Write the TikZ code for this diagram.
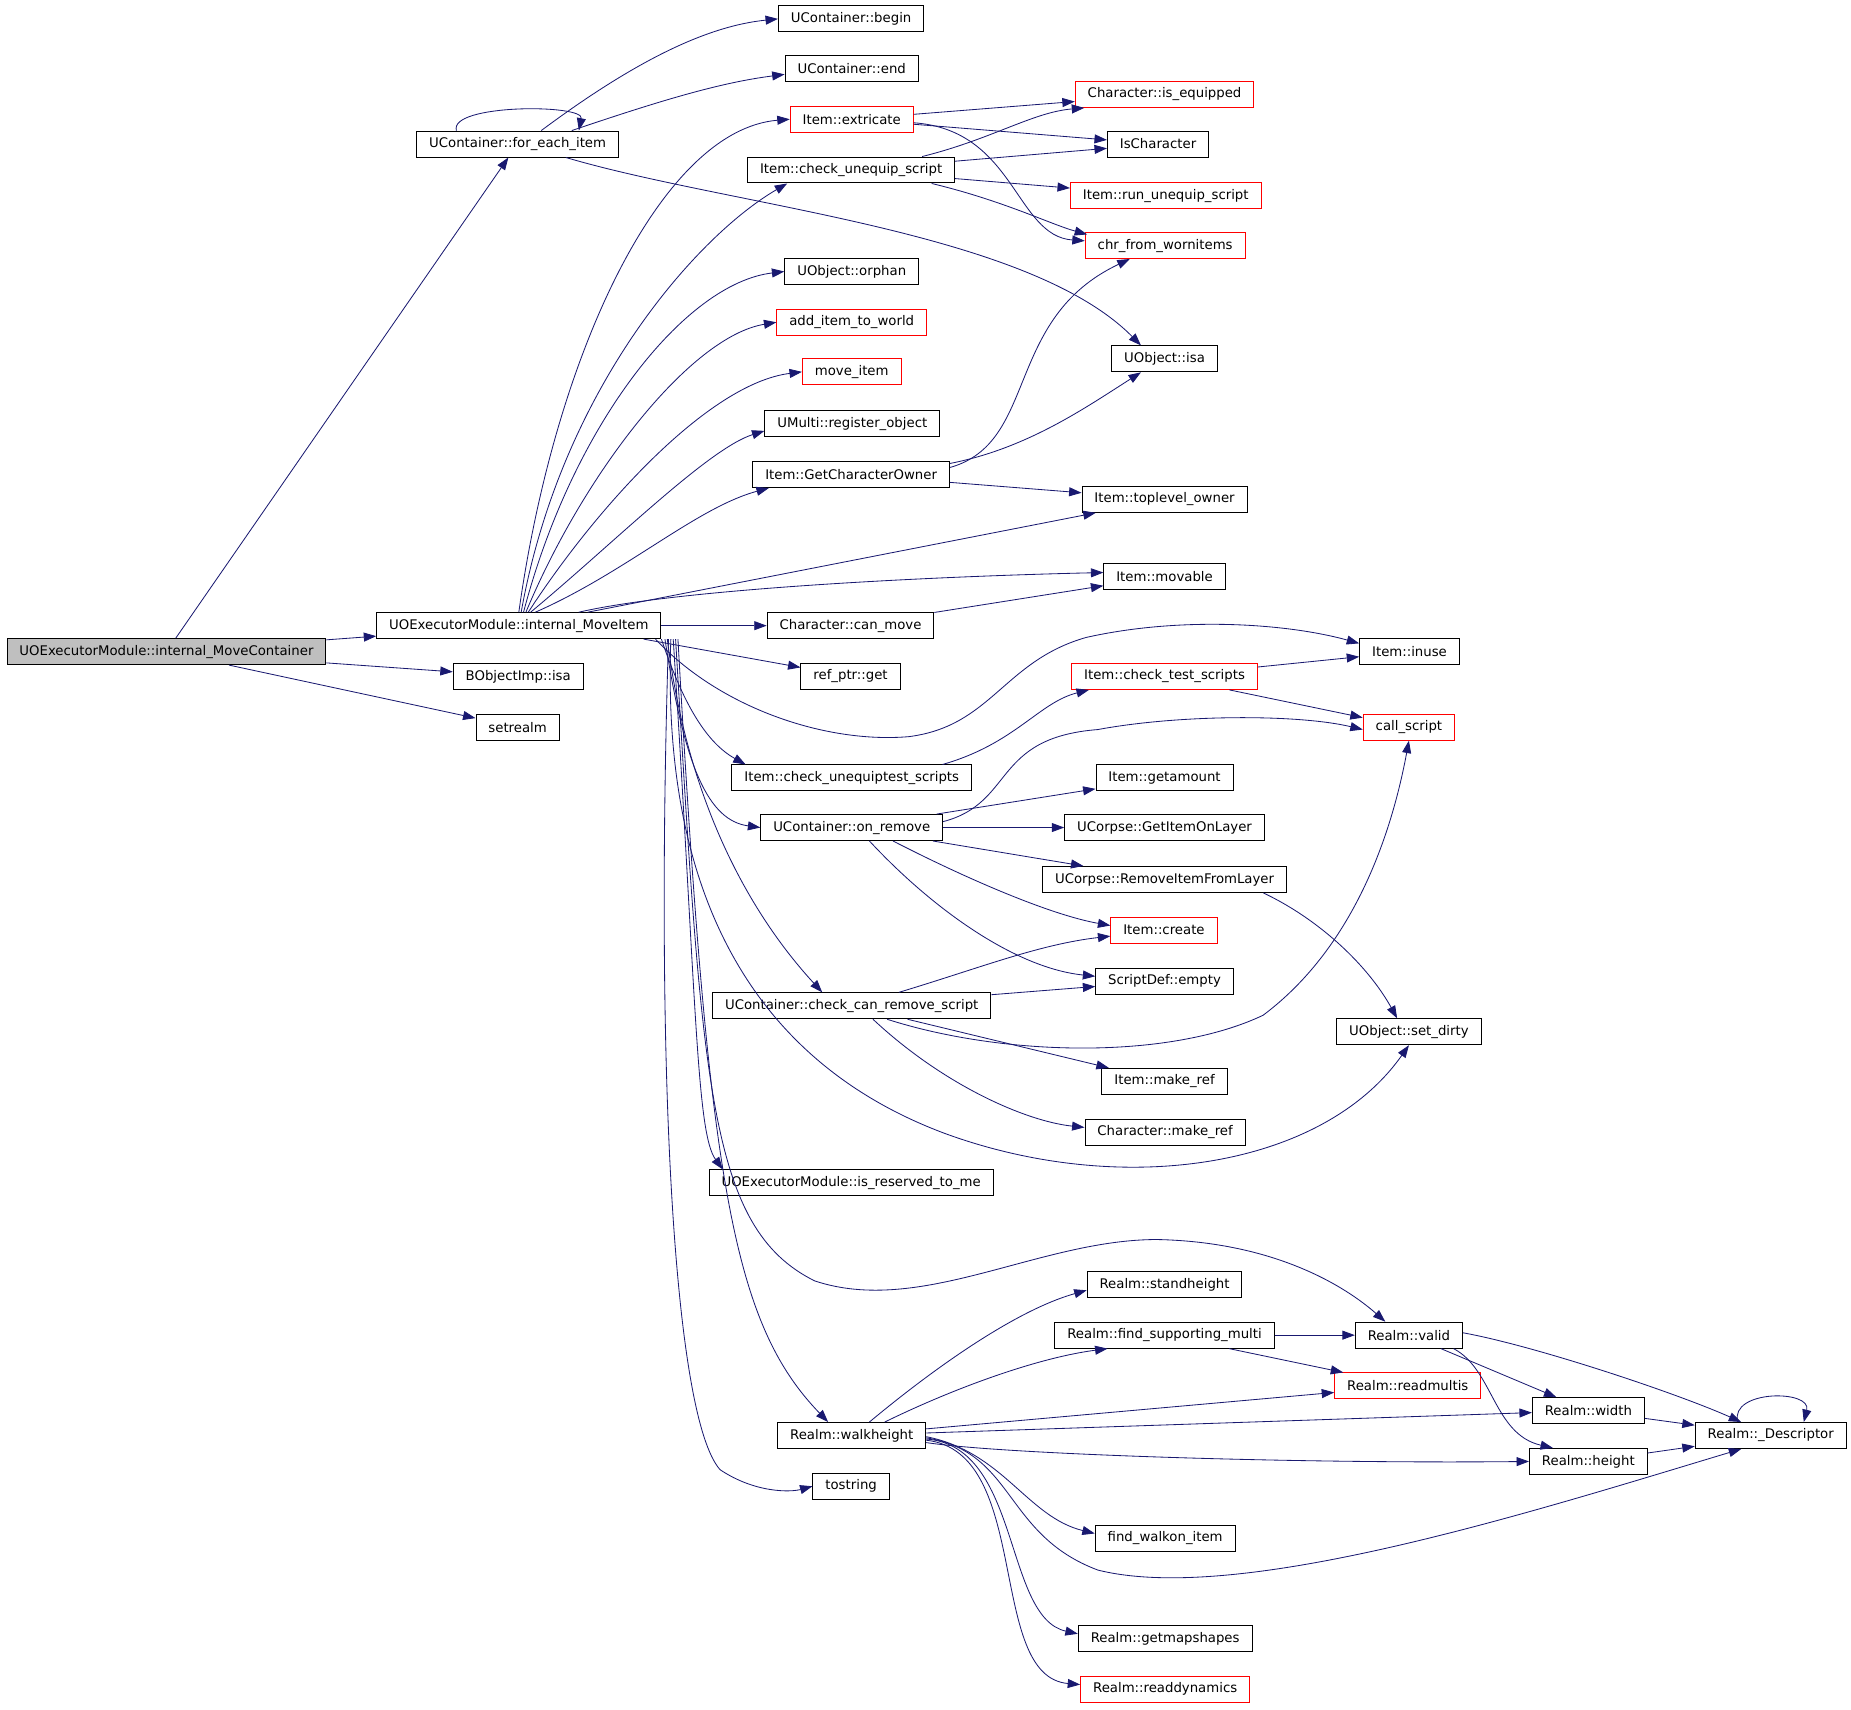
\documentclass[tikz,border=0pt]{standalone}
\usepackage{fontspec}
\setmainfont{DejaVu Sans}
\usetikzlibrary{arrows.meta,calc}
\definecolor{edgeblue}{HTML}{191970}
\tikzstyle{fn}=[draw, rectangle, line width=0.7pt, minimum height=0.66cm, inner xsep=9pt, inner ysep=2pt, font=\fontsize{9.6}{11}\selectfont]
\tikzstyle{undoc}=[draw=red]
\tikzstyle{root}=[fill=black!25]
\tikzstyle{call}=[draw=edgeblue, line width=0.6pt, -{Triangle[length=9pt,width=6.5pt]}]

\begin{document}
\begin{tikzpicture}[x=0.03cm, y=-0.03cm]
\useasboundingbox (0,0) rectangle (1568,1448);
% callers
\draw (141,552) node[fn, root] (mc) {UOExecutorModule::internal\_MoveContainer};
\draw (438.5,122) node[fn] (fe) {UContainer::for\_each\_item};
\draw (439.5,530) node[fn] (mi) {UOExecutorModule::internal\_MoveItem};
\draw (439,573) node[fn] (bisa) {BObjectImp::isa};
\draw (438.5,616) node[fn] (setrealm) {setrealm};
% second column
\draw (721,16) node[fn] (cbegin) {UContainer::begin};
\draw (721.5,58) node[fn] (cend) {UContainer::end};
\draw (721.5,101) node[fn, undoc] (extricate) {Item::extricate};
\draw (721,144) node[fn] (chkunequip) {Item::check\_unequip\_script};
\draw (721.5,230) node[fn] (orphan) {UObject::orphan};
\draw (721.5,273) node[fn, undoc] (additem) {add\_item\_to\_world};
\draw (721.5,315) node[fn, undoc] (moveitem) {move\_item};
\draw (722,359) node[fn] (register) {UMulti::register\_object};
\draw (721,402) node[fn] (getowner) {Item::GetCharacterOwner};
\draw (720.5,530) node[fn] (canmove) {Character::can\_move};
\draw (720.5,573) node[fn] (refget) {ref\_ptr::get};
\draw (721.5,659) node[fn] (chkunequiptest) {Item::check\_unequiptest\_scripts};
\draw (721.5,701) node[fn] (onremove) {UContainer::on\_remove};
\draw (721.5,852) node[fn] (canremove) {UContainer::check\_can\_remove\_script};
\draw (721,1002) node[fn] (reserved) {UOExecutorModule::is\_reserved\_to\_me};
\draw (721.5,1216) node[fn] (walkheight) {Realm::walkheight};
\draw (721,1259) node[fn] (tostring) {tostring};
% third column
\draw (986.5,80) node[fn, undoc] (isequipped) {Character::is\_equipped};
\draw (981,122) node[fn] (ischar) {IsCharacter};
\draw (987.5,166) node[fn, undoc] (rununequip) {Item::run\_unequip\_script};
\draw (987,208) node[fn, undoc] (chrworn) {chr\_from\_wornitems};
\draw (986.5,304) node[fn] (uisa) {UObject::isa};
\draw (986.5,423) node[fn] (toplevel) {Item::toplevel\_owner};
\draw (986.5,488) node[fn] (movable) {Item::movable};
\draw (986.5,573) node[fn, undoc] (chktest) {Item::check\_test\_scripts};
\draw (986.5,659) node[fn] (getamount) {Item::getamount};
\draw (986.5,701) node[fn] (getitemlayer) {UCorpse::GetItemOnLayer};
\draw (986.5,745) node[fn] (removeitem) {UCorpse::RemoveItemFromLayer};
\draw (986,788) node[fn, undoc] (create) {Item::create};
\draw (986.5,831) node[fn] (sdempty) {ScriptDef::empty};
\draw (986.5,916) node[fn] (makeref) {Item::make\_ref};
\draw (987,959) node[fn] (charmakeref) {Character::make\_ref};
\draw (986.5,1088) node[fn] (standheight) {Realm::standheight};
\draw (986.5,1131) node[fn] (findmulti) {Realm::find\_supporting\_multi};
\draw (987,1303) node[fn] (findwalkon) {find\_walkon\_item};
\draw (987,1388) node[fn] (getmapshapes) {Realm::getmapshapes};
\draw (987,1431) node[fn, undoc] (readdynamics) {Realm::readdynamics};
% right side
\draw (1194,552) node[fn] (inuse) {Item::inuse};
\draw (1193.5,616) node[fn, undoc] (callscript) {call\_script};
\draw (1193.5,874) node[fn] (setdirty) {UObject::set\_dirty};
\draw (1193.5,1131) node[fn] (valid) {Realm::valid};
\draw (1192.5,1174) node[fn, undoc] (readmultis) {Realm::readmultis};
\draw (1345.5,1195) node[fn] (width) {Realm::width};
\draw (1345.5,1238) node[fn] (height) {Realm::height};
\draw (1500,1216) node[fn] (descriptor) {Realm::\_Descriptor};

% internal_MoveContainer
\draw[call] (mc) -- (fe);
\draw[call] (mc) -- (mi);
\draw[call] (mc) -- (bisa);
\draw[call] (mc) -- (setrealm);

% for_each_item
\draw[call] ($(fe.north west)+(34,0)$) .. controls (380,88) and (495,88) .. ($(fe.north east)+(-34,0)$);
\draw[call] ($(fe.north)+(20,0)$) .. controls (540,50) and (600,22) .. (cbegin.west);
\draw[call] ($(fe.north east)+(-40,0)$) .. controls (560,85) and (610,70) .. ($(cend.west)+(0,5)$);
\draw[call] ($(fe.south east)+(-45,0)$) .. controls (620,175) and (870,195) .. ($(uisa.north)+(-20,0)$);

% internal_MoveItem, upper fan
\draw[call] (mi.north) .. controls (470,300) and (560,110) .. (extricate.west);
\draw[call] ($(mi.north)+(2,0)$) .. controls (475,330) and (590,200) .. ($(chkunequip.south west)+(34,0)$);
\draw[call] ($(mi.north)+(4,0)$) .. controls (485,360) and (580,240) .. (orphan.west);
\draw[call] ($(mi.north)+(6,0)$) .. controls (495,400) and (585,285) .. (additem.west);
\draw[call] ($(mi.north)+(8,0)$) .. controls (505,430) and (600,325) .. (moveitem.west);
\draw[call] ($(mi.north)+(10,0)$) .. controls (520,460) and (600,380) .. ($(register.west)+(0,6)$);
\draw[call] ($(mi.north)+(14,0)$) .. controls (530,485) and (590,430) .. ($(getowner.south west)+(14,0)$);
\draw[call] (mi) -- (toplevel);
\draw[call] ($(mi.north east)+(-70,0)$) .. controls (580,498) and (800,488) .. ($(movable.west)+(0,-3)$);
\draw[call] (mi) -- (canmove);
\draw[call] ($(mi.south east)+(-15,0)$) -- (refget);

% internal_MoveItem, lower fan
\draw[call] ($(mi.south east)+(-5,0)$) .. controls (610,600) and (700,630) .. (770,624) .. controls (840,615) and (850,560) .. (920,540) .. controls (1000,522) and (1090,528) .. ($(inuse.west)+(0,-7)$);
\draw[call] (mi.south east) .. controls (580,600) and (600,630) .. ($(chkunequiptest.north west)+(12,0)$);
\draw[call] ($(mi.south east)+(3,0)$) .. controls (580,650) and (600,695) .. (onremove.west);
\draw[call] ($(mi.south east)+(5,0)$) .. controls (585,700) and (650,790) .. ($(canremove.north)+(-25,0)$);
\draw[call] ($(mi.south east)+(8,0)$) .. controls (560,760) and (640,900) .. (800,960) .. controls (950,1015) and (1120,990) .. (setdirty.south);
\draw[call] ($(mi.south east)+(10,0)$) .. controls (590,850) and (590,960) .. ($(reserved.north west)+(12,0)$);
\draw[call] ($(mi.south east)+(12,0)$) .. controls (595,920) and (600,1040) .. (690,1085) .. controls (780,1115) and (880,1050) .. (980,1050) .. controls (1080,1052) and (1140,1090) .. ($(valid.north)+(-20,0)$);
\draw[call] ($(mi.south east)+(14,0)$) .. controls (600,1000) and (620,1120) .. ($(walkheight.north)+(-20,0)$);
\draw[call] ($(mi.south east)+(6,0)$) .. controls (555,900) and (570,1200) .. (610,1245) .. controls (640,1265) and (670,1264) .. (tostring.west);

% Item::extricate, Item::check_unequip_script
\draw[call] (extricate) -- (isequipped);
\draw[call] (extricate) -- (ischar);
\draw[call] ($(extricate.east)+(0,3)$) .. controls (860,110) and (860,200) .. ($(chrworn.west)+(0,-4)$);
\draw[call] ($(chkunequip.north east)+(-28,0)$) .. controls (840,118) and (875,95) .. ($(isequipped.south west)+(8,0)$);
\draw[call] (chkunequip) -- (ischar);
\draw[call] (chkunequip) -- (rununequip);
\draw[call] ($(chkunequip.south east)+(-20,0)$) .. controls (850,170) and (890,190) .. ($(chrworn.north west)+(2,2)$);

% Item::GetCharacterOwner, Character::can_move
\draw[call] ($(getowner.east)+(0,-6)$) .. controls (880,375) and (850,270) .. ($(chrworn.south)+(-30,0)$);
\draw[call] ($(getowner.north east)+(0,2)$) .. controls (870,380) and (920,345) .. ($(uisa.south)+(-20,0)$);
\draw[call] (getowner) -- (toplevel);
\draw[call] (canmove) -- (movable);

% scripts
\draw[call] (chktest) -- (inuse);
\draw[call] (chktest) -- (callscript);
\draw[call] ($(chkunequiptest.north east)+(-25,0)$) .. controls (860,630) and (880,595) .. ($(chktest.south west)+(15,0)$);

% UContainer::on_remove
\draw[call] ($(onremove.east)+(0,-5)$) .. controls (860,680) and (840,625) .. (930,618) .. controls (1000,605) and (1100,605) .. ($(callscript.west)+(0,2)$);
\draw[call] (onremove) -- (getamount);
\draw[call] (onremove) -- (getitemlayer);
\draw[call] (onremove) -- (removeitem);
\draw[call] ($(onremove.south)+(35,0)$) .. controls (820,745) and (890,775) .. ($(create.west)+(0,-4)$);
\draw[call] ($(onremove.south)+(15,0)$) .. controls (790,770) and (860,820) .. ($(sdempty.west)+(0,-4)$);
\draw[call] ($(removeitem.south east)+(-20,0)$) .. controls (1120,780) and (1160,820) .. ($(setdirty.north)+(-10,0)$);

% UContainer::check_can_remove_script
\draw[call] ($(canremove.north)+(40,0)$) .. controls (830,820) and (880,800) .. ($(create.west)+(0,5)$);
\draw[call] (canremove) -- (sdempty);
\draw[call] ($(canremove.south)+(30,0)$) .. controls (850,895) and (990,898) .. (1070,860) .. controls (1150,800) and (1180,700) .. (callscript.south);
\draw[call] (canremove) -- (makeref);
\draw[call] ($(canremove.south)+(18,0)$) .. controls (800,920) and (870,950) .. ($(charmakeref.west)+(0,-4)$);

% Realm
\draw[call] (findmulti) -- (valid);
\draw[call] (findmulti) -- (readmultis);
\draw[call] (valid) -- (width);
\draw[call] ($(valid.south east)+(-8,0)$) .. controls (1265,1160) and (1265,1215) .. ($(height.north)+(-30,0)$);
\draw[call] ($(valid.east)+(0,-2)$) .. controls (1300,1140) and (1420,1180) .. ($(descriptor.north)+(-25,0)$);
\draw[call] (width) -- (descriptor);
\draw[call] (height) -- (descriptor);
\draw[call] ($(descriptor.north)+(-28,0)$) .. controls (1465,1177) and (1535,1177) .. ($(descriptor.north)+(28,0)$);

% Realm::walkheight
\draw[call] ($(walkheight.north)+(15,0)$) .. controls (790,1160) and (860,1110) .. ($(standheight.west)+(0,5)$);
\draw[call] ($(walkheight.north)+(28,0)$) .. controls (810,1175) and (880,1150) .. ($(findmulti.south west)+(45,0)$);
\draw[call] (walkheight) -- (readmultis);
\draw[call] (walkheight) -- (width);
\draw[call] ($(walkheight.east)+(0,6)$) .. controls (850,1232) and (1100,1240) .. (height.west);
\draw[call] ($(walkheight.east)+(0,2)$) .. controls (860,1230) and (850,1300) .. (930,1330) .. controls (1050,1360) and (1300,1280) .. ($(descriptor.south)+(-25,0)$);
\draw[call] ($(walkheight.east)+(0,1)$) .. controls (850,1230) and (870,1285) .. ($(findwalkon.west)+(0,-4)$);
\draw[call] ($(walkheight.east)+(0,3)$) .. controls (865,1225) and (850,1370) .. ($(getmapshapes.west)+(0,-4)$);
\draw[call] ($(walkheight.east)+(0,4)$) .. controls (875,1230) and (835,1420) .. ($(readdynamics.west)+(0,-4)$);
\end{tikzpicture}
\end{document}
